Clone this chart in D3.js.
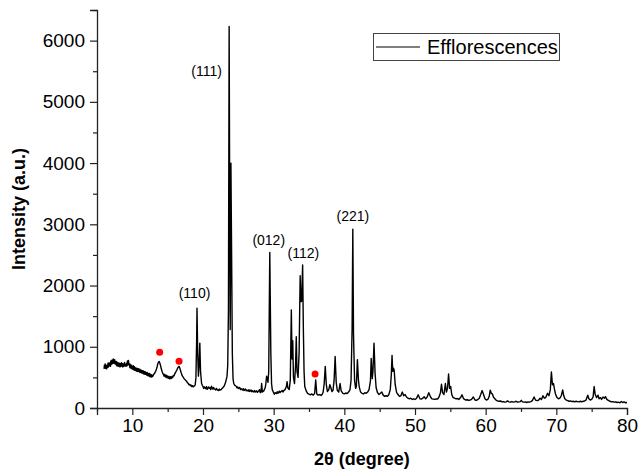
<!DOCTYPE html>
<html>
<head>
<meta charset="utf-8">
<script src="https://cdn.jsdelivr.net/npm/d3@7"></script>
<style>
  body { margin: 0; background: #fff; }
  text { font-family: "Liberation Sans", Arial, sans-serif; fill: #000; }
</style>
</head>
<body>
<div id="chart"></div>
<script>
// XRD pattern, [2theta, intensity]
var pattern = [
  [6.0,640],[6.05,700],[6.1,660],[6.15,720],[6.2,650],[6.3,700],[6.35,640],[6.4,690],[6.5,660],[6.55,730],
  [6.6,670],[6.7,740],[6.75,690],[6.8,720],[6.9,680],[6.95,770],[7.0,710],[7.1,780],[7.15,720],[7.2,760],
  [7.3,800],[7.35,730],[7.4,770],[7.5,790],[7.55,720],[7.6,760],[7.7,710],[7.75,760],[7.8,690],[7.9,745],
  [8.0,680],[8.05,735],[8.1,690],[8.2,730],[8.25,670],[8.3,725],[8.4,680],[8.45,740],[8.5,690],[8.6,725],
  [8.65,670],[8.7,720],[8.8,680],[8.9,745],[8.95,690],[9.0,715],[9.1,680],[9.2,730],[9.25,690],[9.3,770],
  [9.4,705],[9.45,775],[9.5,730],[9.6,700],[9.65,660],[9.7,715],[9.8,650],[9.9,700],[9.95,640],[10.0,680],
  [10.1,630],[10.15,690],[10.2,625],[10.3,675],[10.35,615],[10.4,660],[10.5,640],[10.55,605],[10.6,650],[10.7,600],
  [10.75,645],[10.8,595],[10.9,640],[11.0,590],[11.05,635],[11.1,580],[11.2,620],[11.3,575],[11.35,615],[11.4,570],
  [11.5,610],[11.55,560],[11.6,600],[11.7,555],[11.8,595],[11.85,550],[11.9,585],[12.0,540],[12.1,580],[12.15,530],
  [12.2,570],[12.3,525],[12.4,565],[12.45,515],[12.5,555],[12.6,510],[12.7,545],[12.75,505],[12.8,535],[12.9,520],
  [13.0,545],[13.1,560],[13.2,575],[13.3,600],[13.4,630],[13.5,670],[13.6,720],[13.7,750],[13.8,760],[13.9,730],
  [14.0,690],[14.1,640],[14.2,600],[14.3,570],[14.4,550],[14.5,520],[14.6,550],[14.7,505],[14.8,535],[14.9,495],
  [15.0,525],[15.1,485],[15.2,515],[15.3,475],[15.4,510],[15.5,480],[15.6,515],[15.7,495],[15.8,530],[15.9,525],
  [16.0,560],[16.1,575],[16.2,600],[16.3,620],[16.4,650],[16.5,665],[16.6,680],[16.7,660],[16.8,620],[16.9,580],
  [17.0,545],[17.1,520],[17.2,505],[17.3,485],[17.4,470],[17.5,460],[17.6,445],[17.7,435],[17.8,410],[17.9,405],
  [18.0,380],[18.1,385],[18.2,365],[18.3,375],[18.4,350],[18.5,365],[18.6,345],[18.7,355],[18.8,360],[18.9,380],
  [19.0,500],[19.1,1100],[19.15,1630],[19.25,900],[19.35,520],[19.45,700],[19.55,1060],[19.65,600],[19.8,400],[19.9,370],
  [20.0,350],[20.1,320],[20.2,345],[20.4,315],[20.5,350],[20.6,305],[20.8,345],[20.9,320],[21.0,330],[21.1,300],
  [21.2,355],[21.4,305],[21.5,335],[21.6,315],[21.8,295],[21.9,320],[22.0,300],[22.2,285],[22.3,310],[22.4,290],
  [22.6,305],[22.8,330],[23.0,360],[23.2,420],[23.4,520],[23.5,700],
  [23.6,1600],[23.7,6230],[23.8,2600],[23.85,1280],[23.95,4000],[24.05,2500],[24.15,900],[24.25,480],[24.35,400],[24.5,370],
  [24.7,355],[24.8,330],[24.9,345],[25.0,320],[25.2,335],[25.3,300],[25.4,315],[25.6,295],[25.7,315],[25.8,285],
  [26.0,310],[26.1,280],[26.2,295],[26.4,275],[26.5,300],[26.6,270],[26.8,295],[26.9,265],[27.0,280],[27.2,260],
  [27.3,285],[27.4,260],[27.6,280],[27.7,255],[27.8,270],[27.9,280],[28.0,300],[28.1,250],
  [28.2,260],[28.3,400],[28.4,260],[28.6,280],[28.8,330],[28.9,400],[29.0,520],[29.1,480],[29.2,420],[29.3,600],
  [29.45,2540],[29.6,900],[29.7,400],[29.8,300],[30.0,250],[30.1,225],[30.2,250],[30.4,235],[30.5,265],[30.6,240],
  [30.8,275],[30.9,250],[31.0,265],[31.2,285],[31.3,260],[31.4,280],[31.6,300],[31.8,350],[31.9,430],[32.0,330],
  [32.2,300],[32.35,450],[32.5,1600],[32.6,800],
  [32.7,1100],[32.8,500],[32.95,400],[33.1,700],[33.2,1165],[33.3,600],[33.45,500],[33.6,900],[33.75,2160],[33.85,1740],
  [33.95,1740],[34.1,2336],[34.2,1300],[34.3,600],[34.4,350],[34.6,280],[34.8,240],[35.0,225],[35.2,215],[35.4,230],
  [35.6,210],[35.8,240],[35.95,460],[36.1,230],[36.3,210],[36.5,220],[36.7,205],[36.9,230],[37.0,260],[37.15,400],
  [37.3,680],[37.45,380],[37.6,270],[37.8,300],[37.95,380],[38.1,330],[38.25,270],[38.4,290],[38.55,450],[38.7,840],
  [38.85,420],[39.0,290],[39.2,260],[39.4,400],[39.55,280],[39.8,240],[40.0,230],[40.2,245],[40.4,235],[40.6,260],
  [40.8,300],[40.95,450],[41.1,1300],[41.2,2920],[41.3,1200],[41.45,450],[41.6,320],[41.7,350],[41.85,790],[42.0,450],
  [42.1,350],[42.3,260],[42.5,240],[42.7,230],[42.9,250],[43.1,240],[43.3,260],[43.5,300],[43.7,450],[43.8,810],
  [43.95,480],[44.05,600],[44.2,1060],[44.35,570],[44.5,330],[44.7,250],[44.9,220],[45.1,240],[45.3,260],[45.5,210],
  [45.7,190],[45.9,200],[46.1,190],[46.3,220],[46.5,300],[46.65,550],[46.75,860],[46.85,600],[46.95,650],[47.05,620],
  [47.2,380],[47.4,250],[47.6,220],[47.8,190],[48.0,200],[48.2,260],[48.4,200],[48.6,220],[48.8,180],[49.0,160],
  [49.2,150],[49.4,160],[49.6,140],[49.8,150],[50.0,140],[50.2,155],[50.45,215],[50.7,150],[50.9,145],[51.1,160],
  [51.3,185],[51.5,150],[51.7,175],[51.95,250],[52.2,180],[52.4,150],[52.6,145],[52.8,140],[53.0,150],[53.2,145],
  [53.4,180],[53.6,250],[53.75,390],[53.9,250],[54.1,220],[54.3,400],[54.45,260],[54.6,320],[54.75,555],[54.9,320],
  [55.05,350],[55.2,220],[55.4,170],[55.6,160],[55.8,150],[56.0,155],[56.2,140],[56.45,170],[56.65,215],[56.85,160],
  [57.0,140],[57.2,130],[57.4,135],[57.6,125],[57.8,130],[58.0,140],[58.25,180],[58.5,130],[58.7,125],[58.9,140],
  [59.1,160],[59.3,220],[59.5,285],[59.7,220],[59.9,150],[60.1,130],[60.3,140],[60.5,190],[60.65,290],[60.8,240],
  [60.95,230],[61.1,180],[61.3,150],[61.5,125],[61.7,115],[61.9,110],[62.1,115],[62.3,100],[62.5,105],[62.7,95],
  [62.9,100],[63.1,115],[63.3,100],[63.5,95],[63.7,105],[63.9,95],[64.1,100],[64.3,110],[64.5,95],[64.7,100],
  [64.9,105],[65.05,125],[65.2,100],[65.4,95],[65.6,100],[65.8,90],[66.0,100],[66.2,95],[66.4,105],[66.6,120],
  [66.85,180],[67.05,130],[67.3,120],[67.5,130],[67.7,160],[67.9,140],[68.1,200],[68.3,160],[68.5,170],[68.75,240],
  [68.95,200],[69.15,300],[69.3,590],[69.45,380],[69.6,400],[69.75,300],[69.9,220],[70.1,170],[70.3,150],[70.5,160],
  [70.7,200],[70.9,295],[71.05,200],[71.2,150],[71.4,130],[71.6,120],[71.8,110],[72.0,115],[72.2,105],[72.4,110],
  [72.6,100],[72.8,110],[73.0,105],[73.2,100],[73.4,110],[73.6,100],[73.8,110],[74.0,115],[74.2,130],[74.45,210],
  [74.6,150],[74.8,130],[75.0,140],[75.2,180],[75.35,350],[75.5,220],[75.7,170],[75.9,210],[76.05,150],[76.25,170],
  [76.4,140],[76.6,180],[76.8,160],[76.95,185],[77.15,140],[77.4,120],[77.6,110],[77.8,100],[78.0,105],[78.2,95],
  [78.4,100],[78.6,90],[78.8,95],[79.0,85],[79.2,105],[79.4,90],[79.6,100],[79.8,85],[80.0,90]
];

// peak labels: text, 2theta and intensity of the label centre
var peakNames = ["(111)", "(110)", "(012)", "(112)", "(221)"];
var peakPos = [20.5, 18.8, 29.3, 34.2, 41.2];
var peakLevel = [5500, 1880, 2750, 2530, 3130];

// red markers over impurity peaks
var dotPos = [13.87, 16.61, 35.86];
var dotLevel = [910, 763, 556];

var xTicks = [10, 20, 30, 40, 50, 60, 70, 80];
var xMinor = [5, 15, 25, 35, 45, 55, 65, 75];
var yTicks = [0, 1000, 2000, 3000, 4000, 5000, 6000];
var yMinor = [500, 1500, 2500, 3500, 4500, 5500, 6500];

var seriesName = "Efflorescences";

var W = 638, H = 471;
var x = d3.scaleLinear().domain([5, 80]).range([97, 627]);
var y = d3.scaleLinear().domain([0, 6500]).range([408, 10]);

var svg = d3.select("#chart").append("svg")
    .attr("width", W)
    .attr("height", H);

// the pattern
var line = d3.line()
    .x(function (d) { return x(d[0]); })
    .y(function (d) { return y(d[1]); });

svg.append("path")
    .datum(pattern)
    .attr("d", line)
    .attr("fill", "none")
    .attr("stroke", "#000")
    .attr("stroke-width", 1.4)
    .attr("stroke-linejoin", "round");

// axes
var gx = svg.append("g").attr("transform", "translate(0,408)");
gx.call(d3.axisBottom(x).tickValues(xTicks).tickSize(7).tickPadding(4).tickFormat(d3.format("d")));
var gxm = svg.append("g").attr("transform", "translate(0,408)");
gxm.call(d3.axisBottom(x).tickValues(xMinor).tickSize(4).tickFormat(""));

var gy = svg.append("g").attr("transform", "translate(97,0)");
gy.call(d3.axisLeft(y).tickValues(yTicks).tickSize(7).tickPadding(5).tickFormat(d3.format("d")));
var gym = svg.append("g").attr("transform", "translate(97,0)");
gym.call(d3.axisLeft(y).tickValues(yMinor).tickSize(4).tickFormat(""));

svg.selectAll(".domain").attr("stroke", "#222").attr("stroke-width", 1.3);
svg.selectAll(".tick line").attr("stroke", "#222").attr("stroke-width", 1.2);
gxm.select(".domain").remove();
gym.select(".domain").remove();
svg.selectAll(".tick text")
    .style("font-family", "'Liberation Sans', Arial, sans-serif")
    .style("font-size", "19px")
    .attr("fill", "#000");

// axis titles
svg.append("text")
    .attr("x", 362)
    .attr("y", 465)
    .attr("text-anchor", "middle")
    .style("font-size", "18px")
    .style("font-weight", "bold")
    .text("2θ (degree)");

svg.append("text")
    .attr("transform", "translate(25,209) rotate(-90)")
    .attr("text-anchor", "middle")
    .style("font-size", "18px")
    .style("font-weight", "bold")
    .text("Intensity (a.u.)");

// peak labels
svg.selectAll(".peak")
    .data(peakNames)
    .enter().append("text")
    .attr("class", "peak")
    .attr("x", function (d, i) { return x(peakPos[i]); })
    .attr("y", function (d, i) { return y(peakLevel[i]) + 5; })
    .attr("text-anchor", "middle")
    .style("font-size", "14px")
    .text(function (d) { return d; });

// red dots
svg.selectAll(".dot")
    .data(dotPos)
    .enter().append("circle")
    .attr("class", "dot")
    .attr("cx", function (d) { return x(d); })
    .attr("cy", function (d, i) { return y(dotLevel[i]); })
    .attr("r", 3.5)
    .attr("fill", "#ff0000");

// legend
var lg = svg.append("g");
lg.append("rect")
    .attr("x", 373.5).attr("y", 33.5)
    .attr("width", 186).attr("height", 27)
    .attr("fill", "#fff")
    .attr("stroke", "#444")
    .attr("stroke-width", 1);
lg.append("line")
    .attr("x1", 376).attr("x2", 420)
    .attr("y1", 47).attr("y2", 47)
    .attr("stroke", "#000")
    .attr("stroke-width", 1.2);
lg.append("text")
    .attr("x", 427).attr("y", 54)
    .style("font-size", "20px")
    .text(seriesName);
</script>
</body>
</html>
